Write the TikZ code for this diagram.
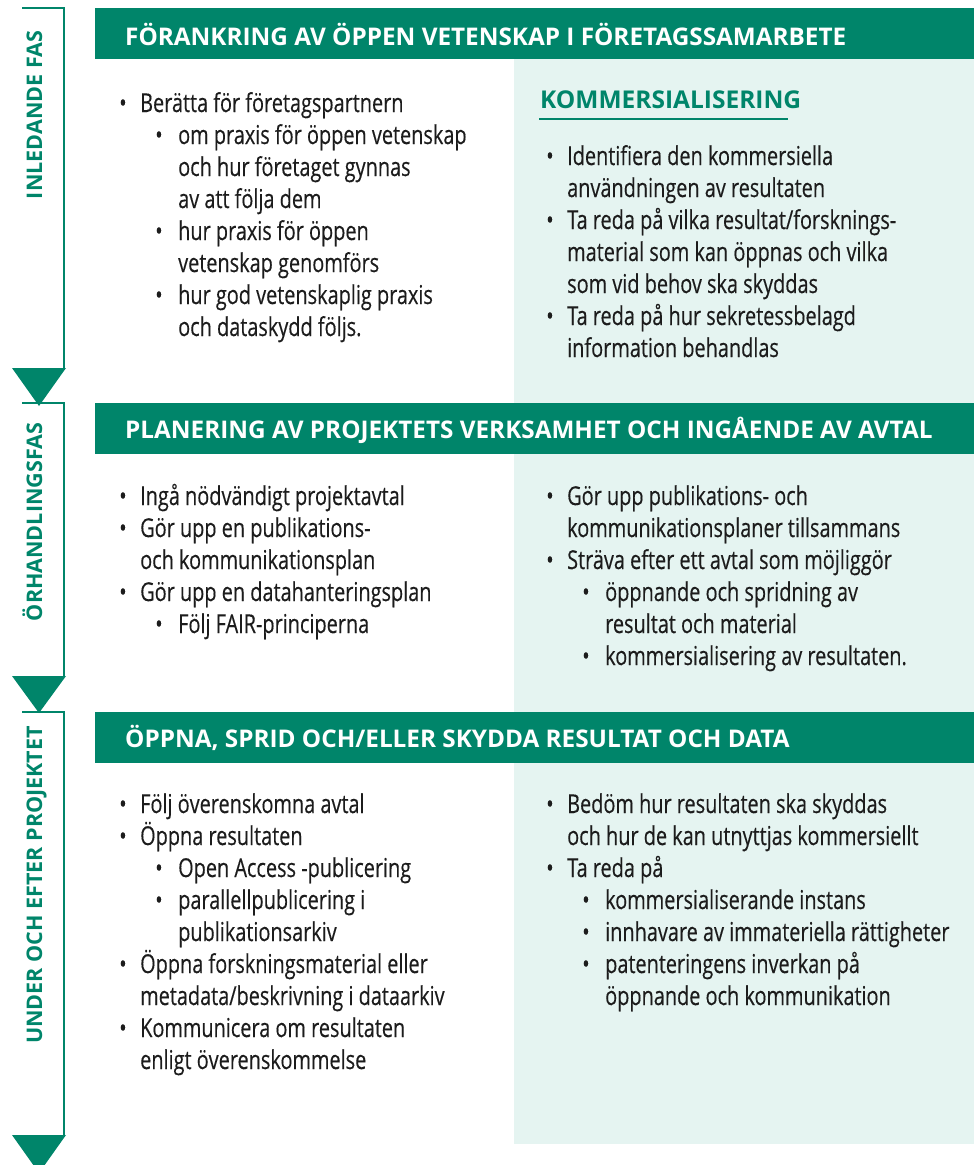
\documentclass[tikz,border=0pt]{standalone}
\usepackage{fontspec}
\setmainfont{Open Sans}
\newfontfamily\bodyfont{Open Sans}[FakeStretch=0.765, FakeBold=0.3]

\definecolor{fasgreen}{HTML}{00856A}
\definecolor{fasmint}{HTML}{E5F4F1}
\definecolor{bodytext}{HTML}{1C1C1C}

% bullet lines: first level, continuation, second level, continuation
\newcommand{\bpt}[1]{\makebox[21pt][l]{\textbullet}#1}
\newcommand{\bcont}[1]{\hspace*{21pt}#1}
\newcommand{\spt}[1]{\hspace*{36pt}\makebox[23pt][l]{\textbullet}#1}
\newcommand{\scont}[1]{\hspace*{59pt}#1}

\begin{document}
\begin{tikzpicture}[x=1pt, y=-1pt,
    headtext/.style={anchor=base west, inner sep=0pt, text=white, font=\bfseries\fontsize{24.3}{28}\selectfont},
    sidelabel/.style={rotate=90, anchor=base, inner sep=0pt, text=fasgreen, font=\bfseries\fontsize{21.5}{25}\selectfont},
    listtext/.style={anchor=base west, inner sep=0pt, align=left, text=bodytext, font=\bodyfont\fontsize{26}{32}\selectfont},
    phaseline/.style={draw=fasgreen, line width=1.6pt}]

    \useasboundingbox (0,0) rectangle (974,1165);

    % Light panels behind the right column
    \fill[fasmint] (514,59) rectangle (974,403);
    \fill[fasmint] (514,454) rectangle (974,712);
    \fill[fasmint] (514,763) rectangle (974,1144);

    % Green title bars
    \fill[fasgreen] (95,8) rectangle (974,59);
    \fill[fasgreen] (95,403) rectangle (974,454);
    \fill[fasgreen] (95,712) rectangle (974,763);

    \node[headtext] (head1) at (125,45) {FÖRANKRING AV ÖPPEN VETENSKAP I FÖRETAGSSAMARBETE};
    \node[headtext] (head2) at (125,438) {PLANERING AV PROJEKTETS VERKSAMHET OCH INGÅENDE AV AVTAL};
    \node[headtext] (head3) at (125,747) {ÖPPNA, SPRID OCH/ELLER SKYDDA RESULTAT OCH DATA};

    % Phase brackets on the left
    \draw[phaseline] (22,8) -- (64,8) -- (64,368);
    \fill[fasgreen] (12,368) -- (66,368) -- (39,406) -- cycle;
    \draw[phaseline] (22,403) -- (64,403) -- (64,676);
    \fill[fasgreen] (12,676) -- (66,676) -- (39,713) -- cycle;
    \draw[phaseline] (22,712) -- (64,712) -- (64,1135);
    \fill[fasgreen] (12,1135) -- (66,1135) -- (39,1173) -- cycle;

    \node[sidelabel] (fas1) at (42,115) {INLEDANDE FAS};
    \node[sidelabel] (fas2) at (42,522) {ÖRHANDLINGSFAS};
    \node[sidelabel] (fas3) at (42,885) {UNDER OCH EFTER PROJEKTET};

    % Phase 1 (lists sit on the baseline of their last line)
    \node[listtext] (list1a) at (119,336) {%
        \bpt{Berätta för företagspartnern}\\
        \spt{om praxis för öppen vetenskap}\\
        \scont{och hur företaget gynnas}\\
        \scont{av att följa dem}\\
        \spt{hur praxis för öppen}\\
        \scont{vetenskap genomförs}\\
        \spt{hur god vetenskaplig praxis}\\
        \scont{och dataskydd följs.}};

    \node[anchor=base west, inner sep=0pt, text=fasgreen, font=\bfseries\fontsize{24.5}{28}\selectfont]
        (komm) at (540,108) {KOMMERSIALISERING};
    \draw[fasgreen, line width=1.4pt] (539,119) -- (788,119);

    \node[listtext] (list1b) at (546,357) {%
        \bpt{Identifiera den kommersiella}\\
        \bcont{användningen av resultaten}\\
        \bpt{Ta reda på vilka resultat/forsknings-}\\
        \bcont{material som kan öppnas och vilka}\\
        \bcont{som vid behov ska skyddas}\\
        \bpt{Ta reda på hur sekretessbelagd}\\
        \bcont{information behandlas}};

    % Phase 2
    \node[listtext] (list2a) at (119,633) {%
        \bpt{Ingå nödvändigt projektavtal}\\
        \bpt{Gör upp en publikations-}\\
        \bcont{och kommunikationsplan}\\
        \bpt{Gör upp en datahanteringsplan}\\
        \spt{Följ FAIR-principerna}};

    \node[listtext] (list2b) at (546,665) {%
        \bpt{Gör upp publikations- och}\\
        \bcont{kommunikationsplaner tillsammans}\\
        \bpt{Sträva efter ett avtal som möjliggör}\\
        \spt{öppnande och spridning av}\\
        \scont{resultat och material}\\
        \spt{kommersialisering av resultaten.}};

    % Phase 3
    \node[listtext] (list3a) at (119,1069) {%
        \bpt{Följ överenskomna avtal}\\
        \bpt{Öppna resultaten}\\
        \spt{Open Access -publicering}\\
        \spt{parallellpublicering i}\\
        \scont{publikationsarkiv}\\
        \bpt{Öppna forskningsmaterial eller}\\
        \bcont{metadata/beskrivning i dataarkiv}\\
        \bpt{Kommunicera om resultaten}\\
        \bcont{enligt överenskommelse}};

    \node[listtext] (list3b) at (546,1005) {%
        \bpt{Bedöm hur resultaten ska skyddas}\\
        \bcont{och hur de kan utnyttjas kommersiellt}\\
        \bpt{Ta reda på}\\
        \spt{kommersialiserande instans}\\
        \spt{innhavare av immateriella rättigheter}\\
        \spt{patenteringens inverkan på}\\
        \scont{öppnande och kommunikation}};
\end{tikzpicture}
\end{document}
